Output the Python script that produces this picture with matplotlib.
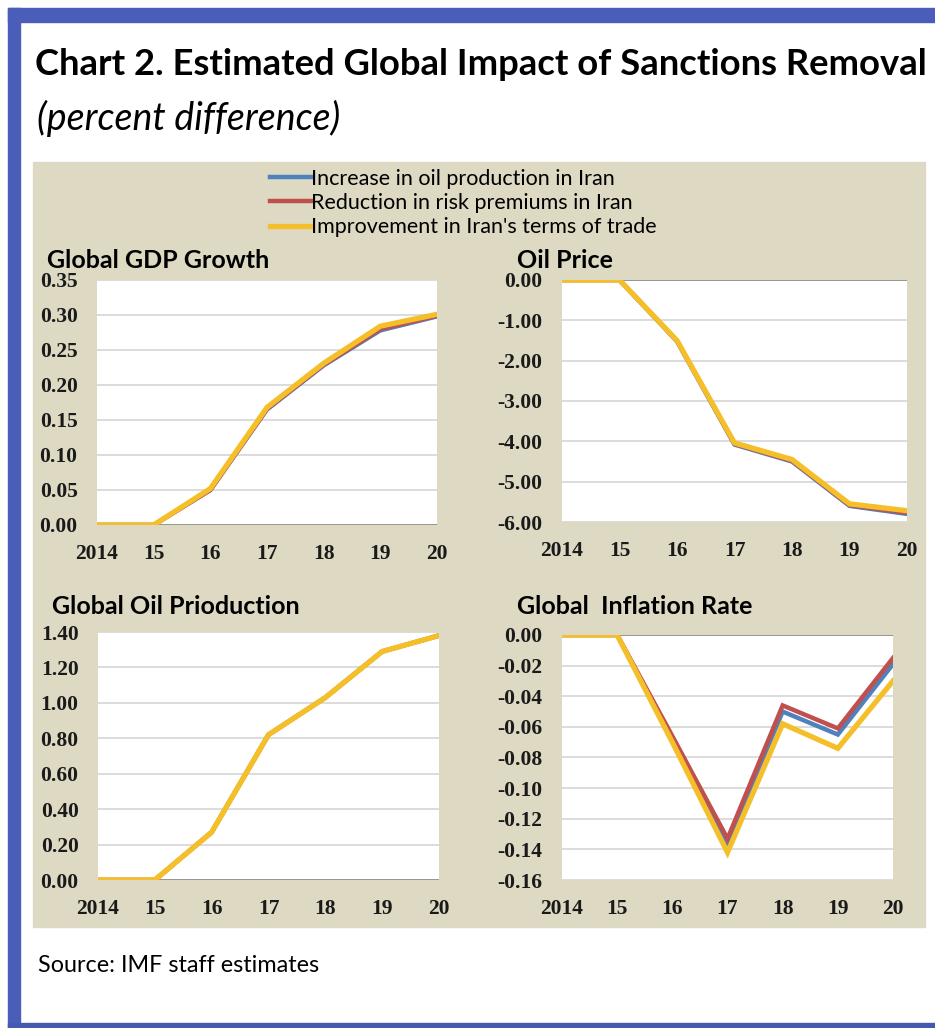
import matplotlib
matplotlib.use('Agg')
import matplotlib.pyplot as plt
from matplotlib.patches import Rectangle

# data
years = ['2014', '15', '16', '17', '18', '19', '20']
series_names = ['Increase in oil production in Iran',
                'Reduction in risk premiums in Iran',
                "Improvement in Iran's terms of trade"]

gdp_oil = [0, 0, 0.050, 0.165, 0.228, 0.278, 0.298]
gdp_risk = [0, 0, 0.050, 0.166, 0.229, 0.280, 0.299]
gdp_tot = [0, 0, 0.052, 0.168, 0.231, 0.284, 0.301]

price_oil = [0, 0, -1.52, -4.08, -4.50, -5.60, -5.80]
price_risk = [0, 0, -1.51, -4.06, -4.48, -5.58, -5.77]
price_tot = [0, 0, -1.50, -4.04, -4.45, -5.55, -5.72]

prod_oil = [0, 0, 0.27, 0.82, 1.03, 1.29, 1.38]
prod_risk = [0, 0, 0.27, 0.82, 1.03, 1.29, 1.38]
prod_tot = [0, 0, 0.27, 0.82, 1.03, 1.29, 1.38]

infl_oil = [0, 0, -0.067, -0.136, -0.050, -0.065, -0.019]
infl_risk = [0, 0, -0.066, -0.133, -0.046, -0.061, -0.015]
infl_tot = [0, 0, -0.070, -0.142, -0.058, -0.074, -0.030]

colors = ['#4F81BD', '#C0504D', '#F5BF2A']
W, H = 935.0, 1028.0

fig = plt.figure(figsize=(9.35, 10.28), dpi=100, facecolor='white')

def rect(x0, y0, x1, y1, color):  # pixel box, y from the top
    fig.patches.append(Rectangle((x0 / W, 1 - y1 / H), (x1 - x0) / W, (y1 - y0) / H,
                                 transform=fig.transFigure, color=color, zorder=-5))

def ftext(x, y, s, **kw):  # text at pixel position
    fig.text(x / W, 1 - y / H, s, **kw)

# frame and beige panel
rect(8, 8, 935, 22, '#4A5DB8')
rect(8, 8, 20, 1028, '#4A5DB8')
rect(8, 1023, 935, 1028, '#4658B0')
rect(33, 162, 925, 927, '#DDD9C3')

ftext(35, 75, 'Chart 2. Estimated Global Impact of Sanctions Removal', family='Lato',
      weight='bold', fontsize=26.2, va='baseline')
ftext(37, 130, '(percent difference)', family='Lato', style='italic', fontsize=27, va='baseline')
ftext(38, 972, 'Source: IMF staff estimates', family='Lato', fontsize=16.8, va='baseline')

def panel(box, title, tpos, data, ylim, yticks, fmt):
    x0, y0, x1, y1 = box
    ax = fig.add_axes([x0 / W, 1 - y1 / H, (x1 - x0) / W, (y1 - y0) / H])
    ax.set_facecolor('white')
    lines = []
    for vals, c in zip(data, colors):
        lw = 3.8 if c == colors[2] else 3.2
        ln, = ax.plot(range(len(years)), vals, color=c, lw=lw, solid_joinstyle='miter', zorder=3)
        lines.append(ln)
    ax.set_xlim(0, len(years) - 1)
    ax.set_ylim(*ylim)
    ax.set_yticks(yticks)
    ax.set_yticklabels([fmt % v for v in yticks])
    ax.set_xticks(range(len(years)))
    ax.set_xticklabels(years)
    for s in ax.spines.values():
        s.set_visible(False)
    ax.grid(axis='y', color='#D9D9D9', lw=1.3)
    ax.axhline(0, color='#909090', lw=1.3, zorder=2)
    ax.tick_params(length=0, pad=14)
    for lab in ax.get_xticklabels() + ax.get_yticklabels():
        lab.set_family('Liberation Serif')
        lab.set_weight('bold')
        lab.set_fontsize(15.5)
        lab.set_color('#1A1A1A')
    ftext(tpos[0], tpos[1], title, family='Lato', weight='bold', fontsize=18, va='center')
    return lines

lines = panel((97, 280, 437, 525), 'Global GDP Growth', (47, 260),
              [gdp_oil, gdp_risk, gdp_tot], (0, 0.35),
              [0, 0.05, 0.10, 0.15, 0.20, 0.25, 0.30, 0.35], '%.2f')
panel((562, 280, 907, 522), 'Oil Price', (517, 261),
      [price_oil, price_risk, price_tot], (-6, 0),
      [-6, -5, -4, -3, -2, -1, 0], '%.2f')
panel((98, 632, 439, 880), 'Global Oil Prioduction', (52, 607),
      [prod_oil, prod_risk, prod_tot], (0, 1.40),
      [0, 0.2, 0.4, 0.6, 0.8, 1.0, 1.2, 1.4], '%.2f')
panel((562, 635, 893, 880), 'Global  Inflation Rate', (517, 607),
      [infl_oil, infl_risk, infl_tot], (-0.16, 0),
      [-0.16, -0.14, -0.12, -0.10, -0.08, -0.06, -0.04, -0.02, 0], '%.2f')

fig.legend(lines, series_names, loc='upper left', bbox_to_anchor=(261 / W, 1 - 160 / H),
           frameon=False, prop={'family': 'Lato', 'size': 15.5}, handlelength=1.9,
           handletextpad=0.0, labelspacing=0.2, borderaxespad=0)

fig.savefig('out.png', dpi=100, facecolor='white')
